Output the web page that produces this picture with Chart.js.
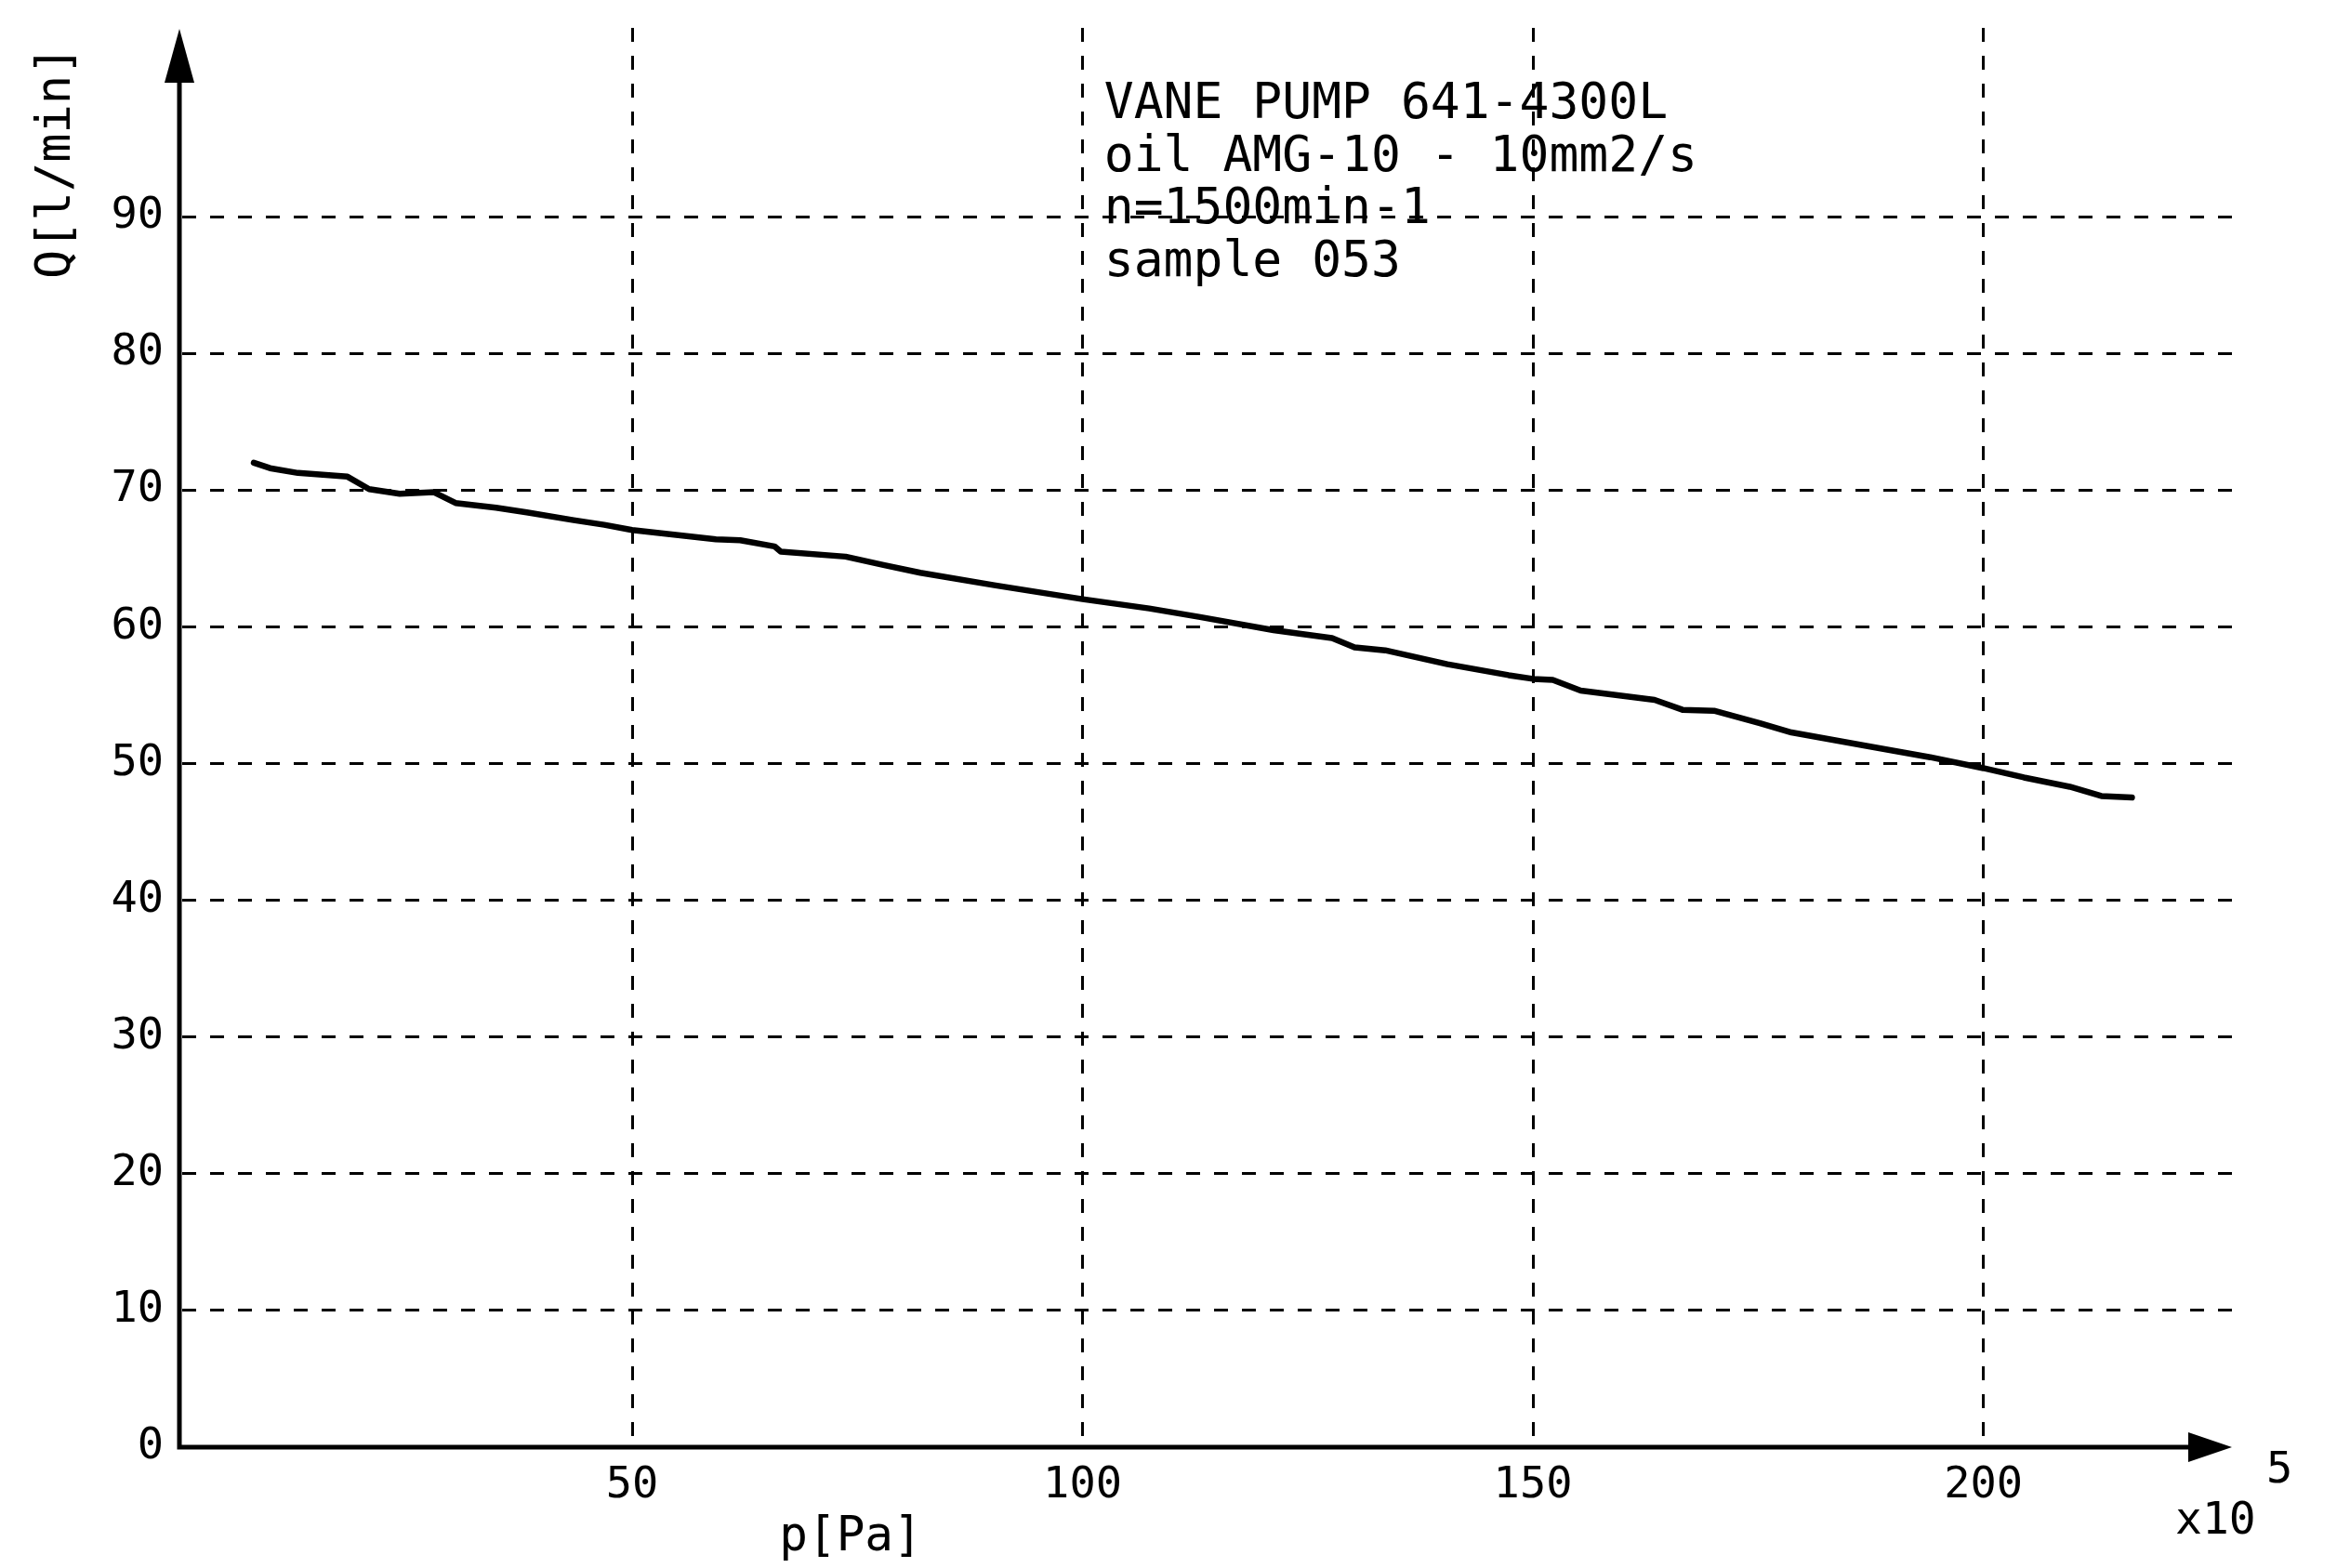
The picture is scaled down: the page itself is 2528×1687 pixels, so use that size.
<!DOCTYPE html>
<html>
<head>
<meta charset="utf-8">
<script src="https://cdn.jsdelivr.net/npm/chart.js@4.4.1/dist/chart.umd.min.js"></script>
<style>
  html, body { margin: 0; padding: 0; background: #fff; }
  canvas { display: block; }
</style>
</head>
<body>
<canvas id="pumpChart" width="2528" height="1687"></canvas>
<script>
// Pump characteristic: p in x10^5 Pa, Q in l/min
const pressure = [8.0, 9.8, 12.9, 18.4, 20.8, 24.2, 28.0, 30.4, 34.9, 38.3, 43.5, 46.9, 50.0,
  59.3, 62.0, 65.8, 66.5, 73.7, 77.9, 82.0, 90.2, 100.0, 107.4, 112.9, 121.2, 127.7, 130.2,
  133.6, 140.5, 147.3, 150.0, 152.2, 155.3, 159.4, 163.5, 166.6, 170.1, 175.2, 178.7, 187.3,
  194.1, 200.0, 204.5, 209.6, 213.1, 216.5];
const flow = [72.0, 71.6, 71.25, 70.98, 70.07, 69.73, 69.84, 69.05, 68.71, 68.37, 67.80, 67.46, 67.08,
  66.40, 66.33, 65.88, 65.49, 65.13, 64.52, 63.95, 63.04, 62.02, 61.34, 60.73, 59.75, 59.18, 58.50,
  58.28, 57.26, 56.46, 56.19, 56.12, 55.33, 54.99, 54.65, 53.93, 53.86, 52.95, 52.27, 51.25,
  50.46, 49.66, 48.98, 48.30, 47.62, 47.51];

const xTicks = [50, 100, 150, 200];
const yTicks = [0, 10, 20, 30, 40, 50, 60, 70, 80, 90];

const noteLines = ["VANE PUMP 641-4300L", "oil AMG-10 - 10mm2/s", "n=1500min-1", "sample 053"];
const xTitle = "p[Pa]";
const yTitle = "Q[l/min]";
const xUnitBase = "x10";
const xUnitExp = "5";

const MONO = "'DejaVu Sans Mono', 'Liberation Mono', monospace";

// axes with arrows + free text
const arrowAxes = {
  id: "arrowAxes",
  afterDraw(chart) {
    const { ctx, chartArea, scales: { x, y } } = chart;
    const ax = x.getPixelForValue(0) - 2.5;
    const ay = y.getPixelForValue(0);
    const top = chartArea.top;
    const right = chartArea.right;

    ctx.save();
    ctx.setLineDash([]);
    ctx.strokeStyle = "#000";
    ctx.fillStyle = "#000";
    ctx.lineWidth = 5;
    ctx.beginPath();
    ctx.moveTo(ax, ay + 2.5);
    ctx.lineTo(ax, top + 55);
    ctx.moveTo(ax - 2.5, ay);
    ctx.lineTo(right - 45, ay);
    ctx.stroke();

    ctx.beginPath();
    ctx.moveTo(ax, top + 1);
    ctx.lineTo(ax - 16, top + 59);
    ctx.lineTo(ax + 16, top + 59);
    ctx.closePath();
    ctx.fill();

    ctx.beginPath();
    ctx.moveTo(right - 1, ay);
    ctx.lineTo(right - 48, ay - 16);
    ctx.lineTo(right - 48, ay + 16);
    ctx.closePath();
    ctx.fill();

    // note block
    ctx.textBaseline = "alphabetic";
    ctx.textAlign = "left";
    ctx.font = "53px " + MONO;
    const nx = x.getPixelForValue(102.4);
    const ny = y.getPixelForValue(97.2);
    noteLines.forEach((line, i) => ctx.fillText(line, nx, ny + i * 56.7));

    // axis titles
    ctx.font = "51px " + MONO;
    ctx.textAlign = "center";
    ctx.fillText(xTitle, 915, 1668);

    ctx.font = "48px " + MONO;
    ctx.textAlign = "left";
    ctx.fillText(xUnitBase, 2340, 1650);
    ctx.font = "47px " + MONO;
    ctx.fillText(xUnitExp, 2438, 1595);

    ctx.translate(75, 300);
    ctx.rotate(-Math.PI / 2);
    ctx.font = "52px " + MONO;
    ctx.textAlign = "left";
    ctx.fillText(yTitle, 0, 0);
    ctx.restore();
  }
};

new Chart(document.getElementById("pumpChart"), {
  type: "line",
  data: {
    datasets: [{
      data: pressure.map((p, i) => ({ x: p, y: flow[i] })),
      borderColor: "#000",
      borderWidth: 6.5,
      borderJoinStyle: "round",
      borderCapStyle: "round",
      pointRadius: 0,
      tension: 0,
      fill: false
    }]
  },
  options: {
    responsive: false,
    animation: false,
    devicePixelRatio: 1,
    layout: { padding: { top: 30, right: 126, bottom: 0, left: 0 } },
    plugins: { legend: { display: false }, tooltip: { enabled: false } },
    scales: {
      x: {
        type: "linear",
        min: 0,
        max: 227.7,
        afterBuildTicks: s => { s.ticks = xTicks.map(v => ({ value: v })); },
        afterFit: s => { s.height = 130; s.paddingLeft = 0; s.paddingRight = 0; },
        grid: { color: "#000", lineWidth: 3, drawTicks: false },
        border: { display: false, dash: [15, 15] },
        ticks: { color: "#000", padding: 14, maxRotation: 0, font: { family: MONO, size: 47 } }
      },
      y: {
        type: "linear",
        min: 0,
        max: 103.8,
        afterBuildTicks: s => { s.ticks = yTicks.map(v => ({ value: v })); },
        afterFit: s => { s.width = 195.5; s.paddingTop = 0; s.paddingBottom = 0; },
        grid: {
          color: c => (c.tick && c.tick.value === 0 ? "rgba(0,0,0,0)" : "#000"),
          lineWidth: 3,
          drawTicks: false
        },
        border: { display: false, dash: [15, 15] },
        ticks: { color: "#000", padding: 19.5, font: { family: MONO, size: 47 } }
      }
    }
  },
  plugins: [arrowAxes]
});
</script>
</body>
</html>
